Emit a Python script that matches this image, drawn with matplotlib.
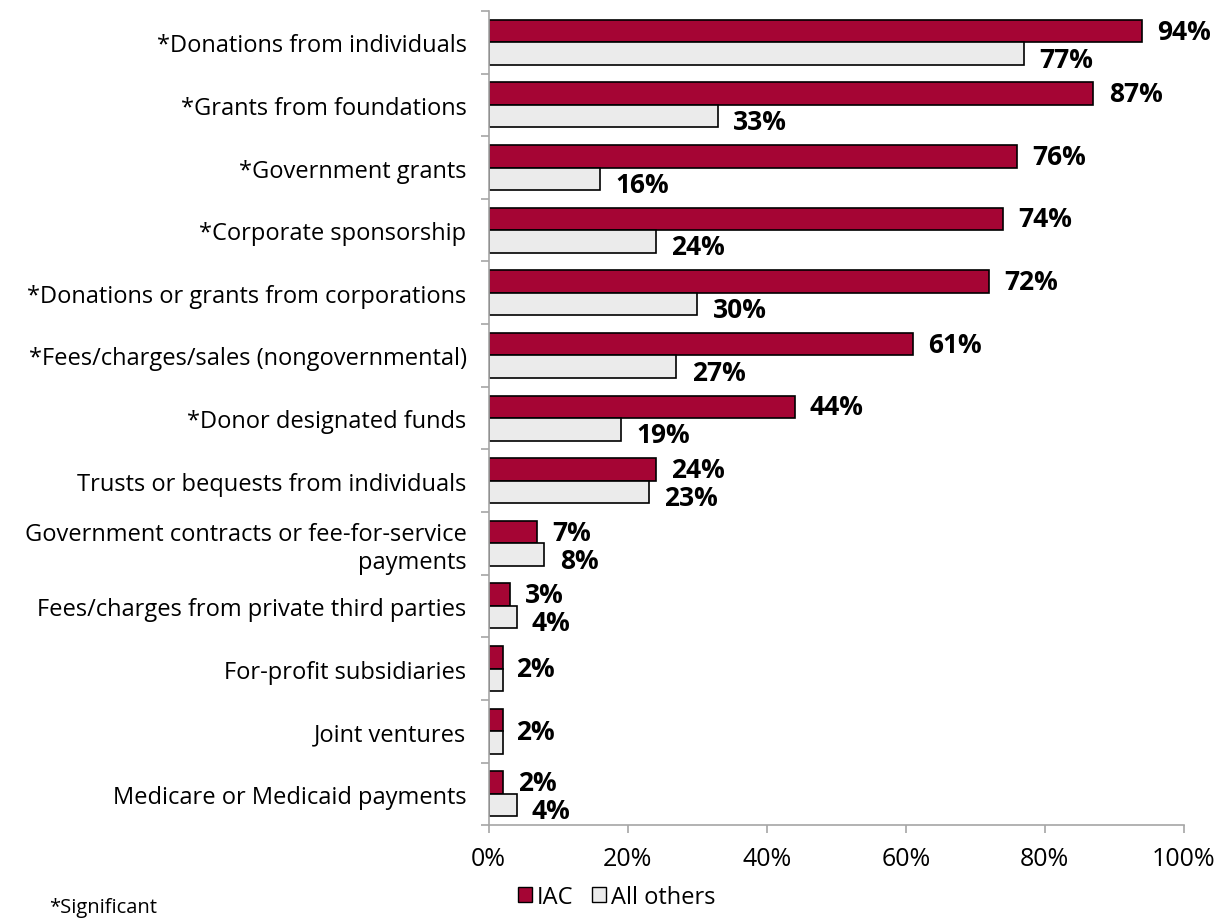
import numpy as np
import matplotlib.pyplot as plt
from matplotlib.patches import Patch

# funding sources, listed top to bottom
sources = [
    "*Donations from individuals",
    "*Grants from foundations",
    "*Government grants",
    "*Corporate sponsorship",
    "*Donations or grants from corporations",
    "*Fees/charges/sales (nongovernmental)",
    "*Donor designated funds",
    "Trusts or bequests from individuals",
    "Government contracts or fee-for-service\npayments",
    "Fees/charges from private third parties",
    "For-profit subsidiaries",
    "Joint ventures",
    "Medicare or Medicaid payments",
]
iac = [94, 87, 76, 74, 72, 61, 44, 24, 7, 3, 2, 2, 2]
others = [77, 33, 16, 24, 30, 27, 19, 23, 8, 4, 2, 2, 4]
# rows where the two shares coincide get just one label
single_label = [False] * 10 + [True, True, False]

red = "#A50534"
grey = "#EBEBEB"

plt.rcParams['font.family'] = ['Open Sans', 'DejaVu Sans']

fig = plt.figure(figsize=(12.28, 9.2), dpi=100)
ax = fig.add_axes([0.398, 0.102, 0.566, 0.885])

n = len(sources)
y = np.arange(n)
h = 0.36
ax.barh(y - h / 2, iac, height=h, color=red, edgecolor="black", linewidth=1.2, label="IAC")
ax.barh(y + h / 2, others, height=h, color=grey, edgecolor="black", linewidth=1.2, label="All others")

lbl = dict(textcoords="offset points", va="center", ha="left", fontsize=19, fontweight="bold")
for i in range(n):
    if single_label[i]:
        ax.annotate(f"{iac[i]}%", (max(iac[i], others[i]), y[i]), xytext=(10, 0), **lbl)
        continue
    ax.annotate(f"{iac[i]}%", (iac[i], y[i] - h / 2), xytext=(11, 0), **lbl)
    ax.annotate(f"{others[i]}%", (others[i], y[i] + h / 2), xytext=(11, -4), **lbl)

ax.set_ylim(n - 0.5, -0.5)
ax.set_xlim(0, 100)
ax.set_xticks(np.arange(0, 101, 20))
ax.set_xticklabels([f"{t}%" for t in range(0, 101, 20)])
ax.set_yticks(y)
ax.set_yticklabels(sources)
ax.set_yticks(np.arange(-0.5, n, 1), minor=True)

ax.tick_params(axis="y", which="major", length=0, pad=16, labelsize=17)
ax.tick_params(axis="y", which="minor", length=6, color="#A6A6A6", width=1.2)
ax.tick_params(axis="x", length=6, color="#A6A6A6", width=1.2, pad=9, labelsize=18)

for side in ["top", "right"]:
    ax.spines[side].set_visible(False)
for side in ["left", "bottom"]:
    ax.spines[side].set_color("#A6A6A6")
    ax.spines[side].set_linewidth(1.2)

handles = [Patch(facecolor=red, edgecolor="black", label="IAC"),
           Patch(facecolor=grey, edgecolor="black", label="All others")]
fig.legend(handles=handles, loc="center", bbox_to_anchor=(0.502, 0.024), ncol=2,
           frameon=False, fontsize=17, handlelength=0.6, handleheight=0.6,
           handletextpad=0.2, columnspacing=0.8)

fig.text(0.04, 0.013, "*Significant", fontsize=14.5, ha="left", va="center")

fig.savefig("out.png", dpi=100)
